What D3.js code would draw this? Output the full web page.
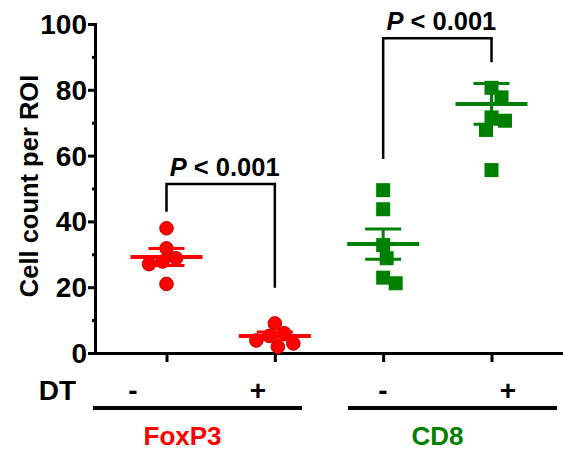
<!DOCTYPE html>
<html>
<head>
<meta charset="utf-8">
<script src="https://cdn.jsdelivr.net/npm/d3@7"></script>
<style>
  body { margin: 0; background: #fff; }
  text { font-family: "Liberation Sans", Arial, sans-serif; font-weight: bold; fill: #000; }
</style>
</head>
<body>
<script>
// values
var columns = ["FoxP3 -", "FoxP3 +", "CD8 -", "CD8 +"];
var dtLabels = ["-", "+", "-", "+"];
var markers = ["FoxP3", "CD8"];
var foxp3Minus = [37.9, 31.8, 28.8, 27.8, 27.0, 21.0];
var foxp3Plus = [9.0, 6.0, 5.2, 3.8, 2.9, 1.9];
var cd8Minus = [49.5, 43.7, 32.8, 28.8, 22.9, 21.2];
var cd8Plus = [80.6, 77.7, 71.6, 70.6, 67.8, 55.6];
var means = [29.2, 5.2, 33.1, 75.7];
var sems = [2.6, 1.2, 4.6, 6.2];
var yTicks = [0, 20, 40, 60, 80, 100];
var yMinorTicks = [10, 30, 50, 70, 90];
var pLabels = ["< 0.001", "< 0.001"];
var bracketTop = [51.4, 95.7];
var bracketLeftEnd = [42.9, 59.0];
var bracketRightEnd = [19.8, 88.4];

var width = 563, height = 450;
var red = "#ff0000", green = "#008000";
var groupColor = [red, red, green, green];
var pointData = [foxp3Minus, foxp3Plus, cd8Minus, cd8Plus];

var svg = d3.select("body").append("svg")
  .attr("width", width).attr("height", height);

var x = d3.scalePoint().domain(columns).range([95, 563]).padding(0.66);
var xLabel = d3.scalePoint().domain(columns).range([133, 508]);
var xGroup = d3.scaleBand().domain(markers).range([93, 557]).paddingInner(0.18);
var y = d3.scaleLinear().domain([0, 100]).range([353, 24]);

// simple beeswarm so dots don't sit on top of each other
function swarm(vals, minD) {
  var placed = [];
  return vals.map(function(v) {
    var py = y(v), px = 0;
    search:
    for (var d = 0; d < 80; d += 0.5) {
      for (var s of [1, -1]) {
        var cx = s * d;
        var ok = placed.every(function(p) {
          return (p.x - cx) * (p.x - cx) + (p.y - py) * (p.y - py) >= minD * minD;
        });
        if (ok) { px = cx; break search; }
      }
    }
    placed.push({x: px, y: py});
    return {x: px, y: py};
  });
}

// axes
var yAxis = svg.append("g").attr("transform", "translate(95,0)")
  .call(d3.axisLeft(y).tickValues(yTicks).tickSize(7).tickSizeOuter(0).tickFormat(""));
var yMinor = svg.append("g").attr("transform", "translate(95,0)")
  .call(d3.axisLeft(y).tickValues(yMinorTicks).tickSize(3).tickSizeOuter(0).tickFormat(""));
yMinor.select(".domain").remove();
var xAxis = svg.append("g").attr("transform", "translate(0,353)")
  .call(d3.axisBottom(x).tickSize(9).tickSizeOuter(0).tickFormat(""));

svg.selectAll(".domain").attr("stroke", "#000").attr("stroke-width", 3).attr("stroke-linecap", "square");
svg.selectAll(".tick line").attr("stroke", "#000").attr("stroke-width", 3);

svg.append("g").selectAll("text").data(yTicks).join("text")
  .attr("x", 87).attr("y", function(d) { return y(d); })
  .attr("dy", "0.36em")
  .attr("text-anchor", "end")
  .style("font-size", "28px")
  .text(function(d) { return d; });

svg.append("text")
  .attr("transform", "translate(38," + 186 + ") rotate(-90)")
  .attr("text-anchor", "middle")
  .style("font-size", "25.5px")
  .text("Cell count per ROI");

// points
columns.forEach(function(c, i) {
  var pos = swarm(pointData[i], 13.5);
  var g = svg.append("g");
  if (i < 2) {
    g.selectAll("circle").data(pos).join("circle")
      .attr("cx", function(d) { return x(c) + d.x; })
      .attr("cy", function(d) { return d.y; })
      .attr("r", 6.8)
      .attr("fill", red)
      .attr("stroke", "#c00000").attr("stroke-width", 1);
  } else {
    g.selectAll("rect").data(pos).join("rect")
      .attr("x", function(d) { return x(c) + d.x - 7; })
      .attr("y", function(d) { return d.y - 7; })
      .attr("width", 14).attr("height", 14)
      .attr("fill", green);
  }
});

// mean and SEM
columns.forEach(function(c, i) {
  var cx = x(c), col = groupColor[i];
  var g = svg.append("g").attr("stroke", col);
  g.append("line").attr("x1", cx - 36).attr("x2", cx + 36)
    .attr("y1", y(means[i])).attr("y2", y(means[i])).attr("stroke-width", 4);
  g.append("line").attr("x1", cx).attr("x2", cx)
    .attr("y1", y(means[i] - sems[i])).attr("y2", y(means[i] + sems[i])).attr("stroke-width", 3);
  [means[i] - sems[i], means[i] + sems[i]].forEach(function(v) {
    g.append("line").attr("x1", cx - 18).attr("x2", cx + 18)
      .attr("y1", y(v)).attr("y2", y(v)).attr("stroke-width", 3);
  });
});

// significance brackets
markers.forEach(function(m, k) {
  var xl = x(columns[2 * k]), xr = x(columns[2 * k + 1]);
  svg.append("path")
    .attr("d", "M" + xl + "," + y(bracketLeftEnd[k]) + "V" + y(bracketTop[k]) +
               "H" + xr + "V" + y(bracketRightEnd[k]))
    .attr("fill", "none").attr("stroke", "#000").attr("stroke-width", 2.5);
  var t = svg.append("text")
    .attr("x", (xl + xr) / 2 + 4).attr("y", y(bracketTop[k]) - 8)
    .attr("text-anchor", "middle")
    .style("font-size", "25.5px");
  t.append("tspan").style("font-style", "italic").text("P");
  t.append("tspan").text(" " + pLabels[k]);
});

// DT row
svg.append("text").attr("x", 76).attr("y", 400)
  .attr("text-anchor", "end").style("font-size", "28px").text("DT");
svg.append("g").selectAll("text").data(columns).join("text")
  .attr("x", function(d) { return xLabel(d); })
  .attr("y", 400)
  .attr("text-anchor", "middle")
  .style("font-size", "28px")
  .text(function(d, i) { return dtLabels[i]; });

// group underlines and names
markers.forEach(function(m, k) {
  var x0 = xGroup(m), x1 = x0 + xGroup.bandwidth();
  svg.append("line").attr("x1", x0).attr("x2", x1).attr("y1", 408).attr("y2", 408)
    .attr("stroke", "#000").attr("stroke-width", 4);
  svg.append("text")
    .attr("x", (x0 + x1) / 2 - 15).attr("y", 445)
    .attr("text-anchor", "middle")
    .style("font-size", "26px")
    .style("fill", k === 0 ? red : green)
    .text(m);
});
</script>
</body>
</html>
